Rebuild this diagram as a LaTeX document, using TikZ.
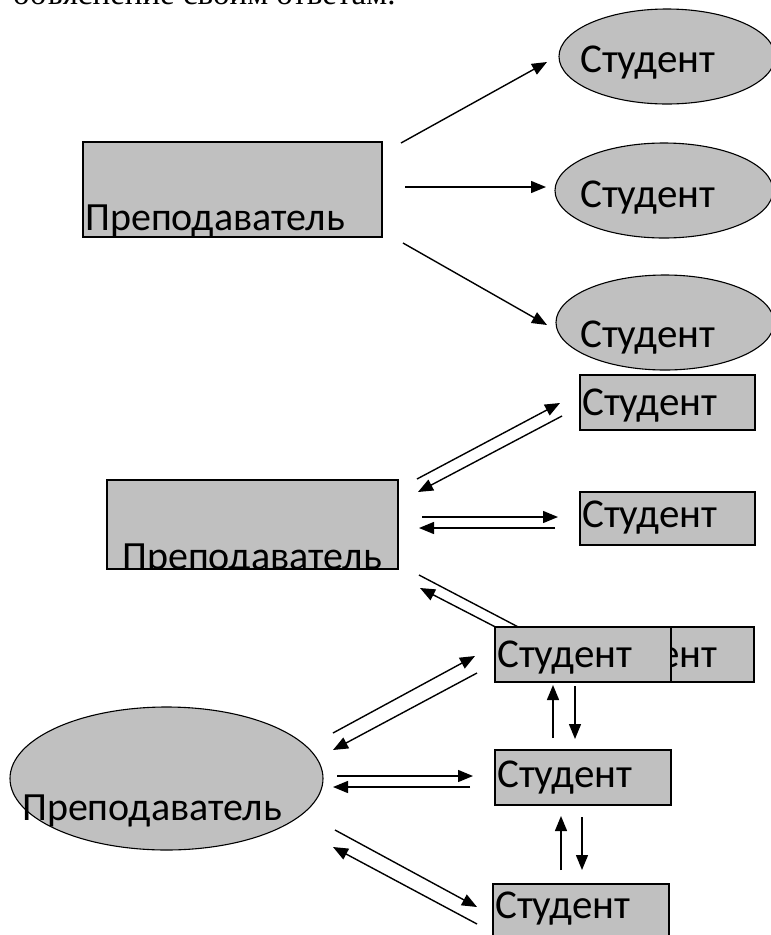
\documentclass[tikz,border=0pt]{standalone}
\usepackage{fontspec}
\setmainfont{Carlito}
\newfontfamily\serifhead{Liberation Serif}
\usetikzlibrary{arrows.meta,shapes.geometric}
\definecolor{boxfill}{HTML}{C0C0C0}
\begin{document}
\begin{tikzpicture}[x=1pt,y=-1pt,
  boxsh/.style={draw=black, fill=boxfill, line width=1.3pt, rectangle, inner sep=0pt},
  ellsh/.style={draw=black, fill=boxfill, line width=1.1pt, ellipse, inner sep=0pt},
  lbl/.style={anchor=base west, inner sep=0pt, font=\fontsize{41}{44}\selectfont},
  tlbl/.style={anchor=base west, inner sep=0pt, font=\fontsize{40}{44}\selectfont},
  arr/.style={line width=1.4pt, -{Triangle[length=15pt,width=12pt]}},
  plainln/.style={line width=1.4pt}]
\useasboundingbox (0,0) rectangle (771,935);

% header (cut off at top)
\node[anchor=base west, inner sep=0pt, font=\serifhead\fontsize{33}{36}\selectfont] (head) at (13,4) {объяснение своим ответам.};

% ---------- group 1 ----------
\node[boxsh, minimum width=299pt, minimum height=95pt] (t1) at (232.5,189.5) {};
\node[tlbl] (t1l) at (85,230) {Преподаватель};
\node[ellsh, minimum width=216pt, minimum height=95pt] (e1) at (667,56.5) {};
\node[lbl] (e1l) at (580,72) {Студент};
\node[ellsh, minimum width=218pt, minimum height=95pt] (e2) at (664,190.5) {};
\node[lbl] (e2l) at (580,207) {Студент};
\node[ellsh, minimum width=218pt, minimum height=95pt] (e3) at (665,322.5) {};
\node[lbl] (e3l) at (580,347) {Студент};

\coordinate (a1s) at (401,143); \coordinate (a1e) at (547,62);
\coordinate (a2s) at (405,187); \coordinate (a2e) at (546,187);
\coordinate (a3s) at (403,243); \coordinate (a3e) at (547,325);
\draw[arr] (a1s) -- (a1e);
\draw[arr] (a2s) -- (a2e);
\draw[arr] (a3s) -- (a3e);

% ---------- group 2 ----------
\node[boxsh, minimum width=291pt, minimum height=89pt] (t2) at (252.5,524.5) {};
\begin{scope}
\clip (107,480) rectangle (398,569);
\node[tlbl] (t2l) at (122,569) {Преподаватель};
\end{scope}
\draw[line width=1.3pt] (t2.south west) -- (t2.south east);

\node[boxsh, minimum width=175pt, minimum height=55pt] (sa) at (667.5,402.5) {};
\node[lbl] (sal) at (582,415) {Студент};
\node[boxsh, minimum width=175pt, minimum height=53pt] (sb) at (667.5,518.5) {};
\node[lbl] (sbl) at (582,527) {Студент};
\node[boxsh, minimum width=174pt, minimum height=55pt] (sc) at (667,654.5) {};
\node[lbl] (scl) at (582,667) {Студент};

\coordinate (b1s) at (417,479); \coordinate (b1e) at (560,403);
\coordinate (b2s) at (562,416); \coordinate (b2e) at (418,492);
\coordinate (b3s) at (422,517); \coordinate (b3e) at (558,517);
\coordinate (b4s) at (555,528); \coordinate (b4e) at (419,528);
\coordinate (b5s) at (419,575); \coordinate (b5e) at (545,641);
\coordinate (b6s) at (540,650); \coordinate (b6e) at (420,588);
\draw[arr] (b1s) -- (b1e);
\draw[arr] (b2s) -- (b2e);
\draw[arr] (b3s) -- (b3e);
\draw[arr] (b4s) -- (b4e);
\draw[plainln] (b5s) -- (b5e);
\draw[arr] (b6s) -- (b6e);

% ---------- group 3 ----------
\node[boxsh, minimum width=176pt, minimum height=55pt] (sd) at (583,654.5) {};
\node[lbl] (sdl) at (497,667) {Студент};
\node[boxsh, minimum width=176pt, minimum height=55pt] (se) at (583,777.5) {};
\node[lbl] (sel) at (497,787) {Студент};
\node[boxsh, minimum width=176pt, minimum height=55pt] (sf) at (581,911.5) {};
\node[lbl] (sfl) at (495,918) {Студент};

\node[ellsh, minimum width=313pt, minimum height=143pt] (t3) at (166.5,778.5) {};
\node[tlbl] (t3l) at (22,820) {Преподаватель};

\coordinate (c1s) at (333,733); \coordinate (c1e) at (475,656);
\coordinate (c2s) at (477,673); \coordinate (c2e) at (333,750);
\coordinate (c3s) at (337,776); \coordinate (c3e) at (473,776);
\coordinate (c4s) at (470,787); \coordinate (c4e) at (333,787);
\coordinate (c5s) at (335,830); \coordinate (c5e) at (477,907);
\coordinate (c6s) at (477,924); \coordinate (c6e) at (333,847);
\draw[arr] (c1s) -- (c1e);
\draw[arr] (c2s) -- (c2e);
\draw[arr] (c3s) -- (c3e);
\draw[arr] (c4s) -- (c4e);
\draw[arr] (c5s) -- (c5e);
\draw[arr] (c6s) -- (c6e);

\coordinate (v1s) at (553,738); \coordinate (v1e) at (553,685);
\coordinate (v2s) at (575,686); \coordinate (v2e) at (575,739);
\coordinate (v3s) at (561,870); \coordinate (v3e) at (561,816);
\coordinate (v4s) at (582,817); \coordinate (v4e) at (582,870);
\draw[arr] (v1s) -- (v1e);
\draw[arr] (v2s) -- (v2e);
\draw[arr] (v3s) -- (v3e);
\draw[arr] (v4s) -- (v4e);
\end{tikzpicture}
\end{document}
